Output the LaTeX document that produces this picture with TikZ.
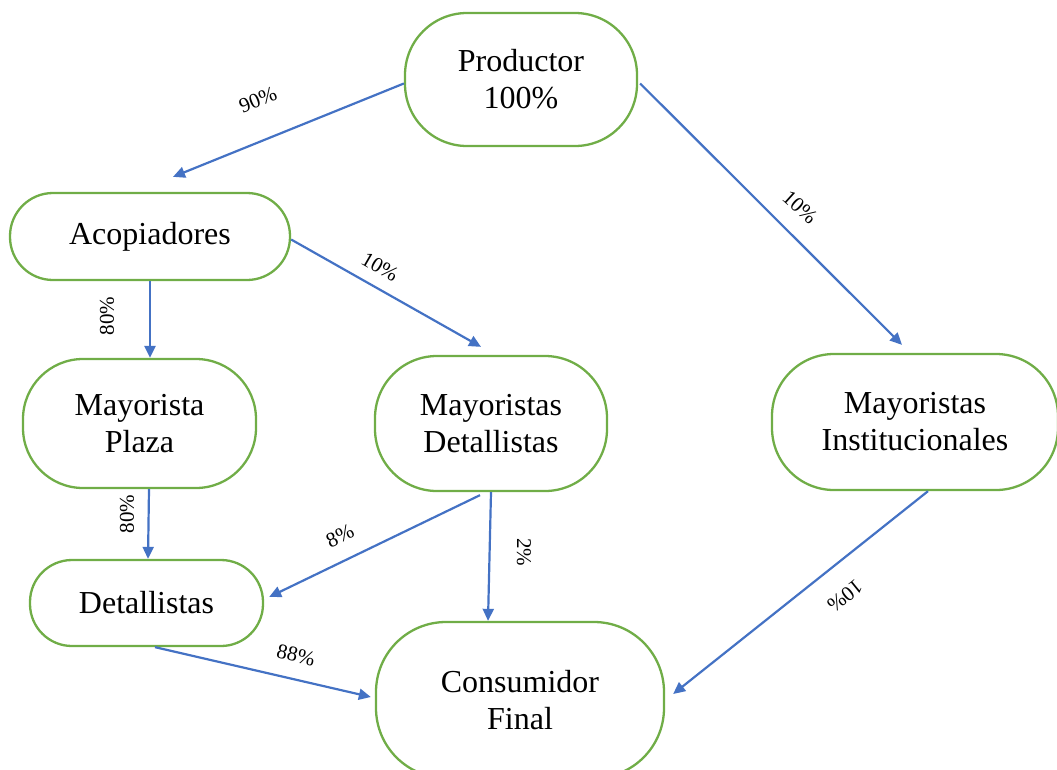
\documentclass[tikz,border=0pt]{standalone}
\usepackage{fontspec}
\setmainfont{Liberation Serif}
\usepackage{xcolor}
\usetikzlibrary{arrows.meta,positioning,calc}
\definecolor{boxgreen}{HTML}{70AD47}
\definecolor{flowblue}{HTML}{4472C4}

\begin{document}
\begin{tikzpicture}[x=1pt, y=-1pt, >={Triangle[length=12pt,width=11pt]},
  stagebox/.style={draw=boxgreen, line width=2.3pt, rounded corners=#1, align=center,
    font=\fontsize{32}{37}\selectfont, inner sep=0pt},
  stagebox/.default=43pt,
  flow/.style={->, draw=flowblue, line width=2.2pt},
  pct/.style={font=\fontsize{21}{23}\selectfont, inner sep=1pt}]
  \useasboundingbox (0,0) rectangle (1057,769);
  % channel stages
  \node[stagebox=62pt, minimum width=232pt, minimum height=133pt](prod) at (521,79.5){Productor\\100\%};
  \node[stagebox=43pt, minimum width=280pt, minimum height=87pt](acop) at (150,236.5){Acopiadores};
  \node[stagebox=60pt, minimum width=233pt, minimum height=129pt](plaza) at (139.5,423.5){Mayorista\\Plaza};
  \node[stagebox=62pt, minimum width=232pt, minimum height=135pt](mdet) at (491,423.5){Mayoristas\\Detallistas};
  \node[stagebox=62pt, minimum width=286pt, minimum height=136pt](minst) at (915,422){Mayoristas\\Institucionales};
  \node[stagebox=42pt, minimum width=233pt, minimum height=86pt](detal) at (146.5,603){Detallistas};
  \node[stagebox=70pt, minimum width=288pt, minimum height=156pt](cons) at (520,700){Consumidor\\Final};
  % flows
  \draw[flow]([yshift=-4pt]prod.west)--([xshift=23pt,yshift=15pt]acop.north);
  \draw[flow]([xshift=2pt,yshift=-4pt]prod.east)--([xshift=-13pt,yshift=8pt]minst.north);
  \draw[flow]([yshift=-3pt]acop.east)--([xshift=-10pt,yshift=8pt]mdet.north);
  \draw[flow](acop.south)--(acop.south |- plaza.north);
  \draw[flow]([xshift=9.5pt]plaza.south)--([xshift=1.5pt]detal.north);
  \draw[flow]([xshift=-11pt,yshift=-3pt]mdet.south)--([xshift=5pt,yshift=6pt]detal.east);
  \draw[flow](mdet.south)--([xshift=-32pt]cons.north);
  \draw[flow]([xshift=8.5pt]detal.south)--([xshift=-4pt,yshift=3pt]cons.west);
  \draw[flow]([xshift=13pt]minst.south)--([xshift=8pt,yshift=6pt]cons.east);
  % shares
  \node[pct, rotate=22](p90) at (258,100){90\%};
  \node[pct, rotate=-42](p10a) at (800,207){10\%};
  \node[pct, rotate=-30](p10b) at (380,267){10\%};
  \node[pct, rotate=90](p80a) at (107,316){80\%};
  \node[pct, rotate=90](p80b) at (127,514){80\%};
  \node[pct, rotate=26](p8) at (340,536){8\%};
  \node[pct, rotate=-90](p2) at (524,552){2\%};
  \node[pct, rotate=-13](p88) at (296,655){88\%};
  \node[pct, rotate=-141](p10c) at (845,596){10\%};
\end{tikzpicture}
\end{document}
